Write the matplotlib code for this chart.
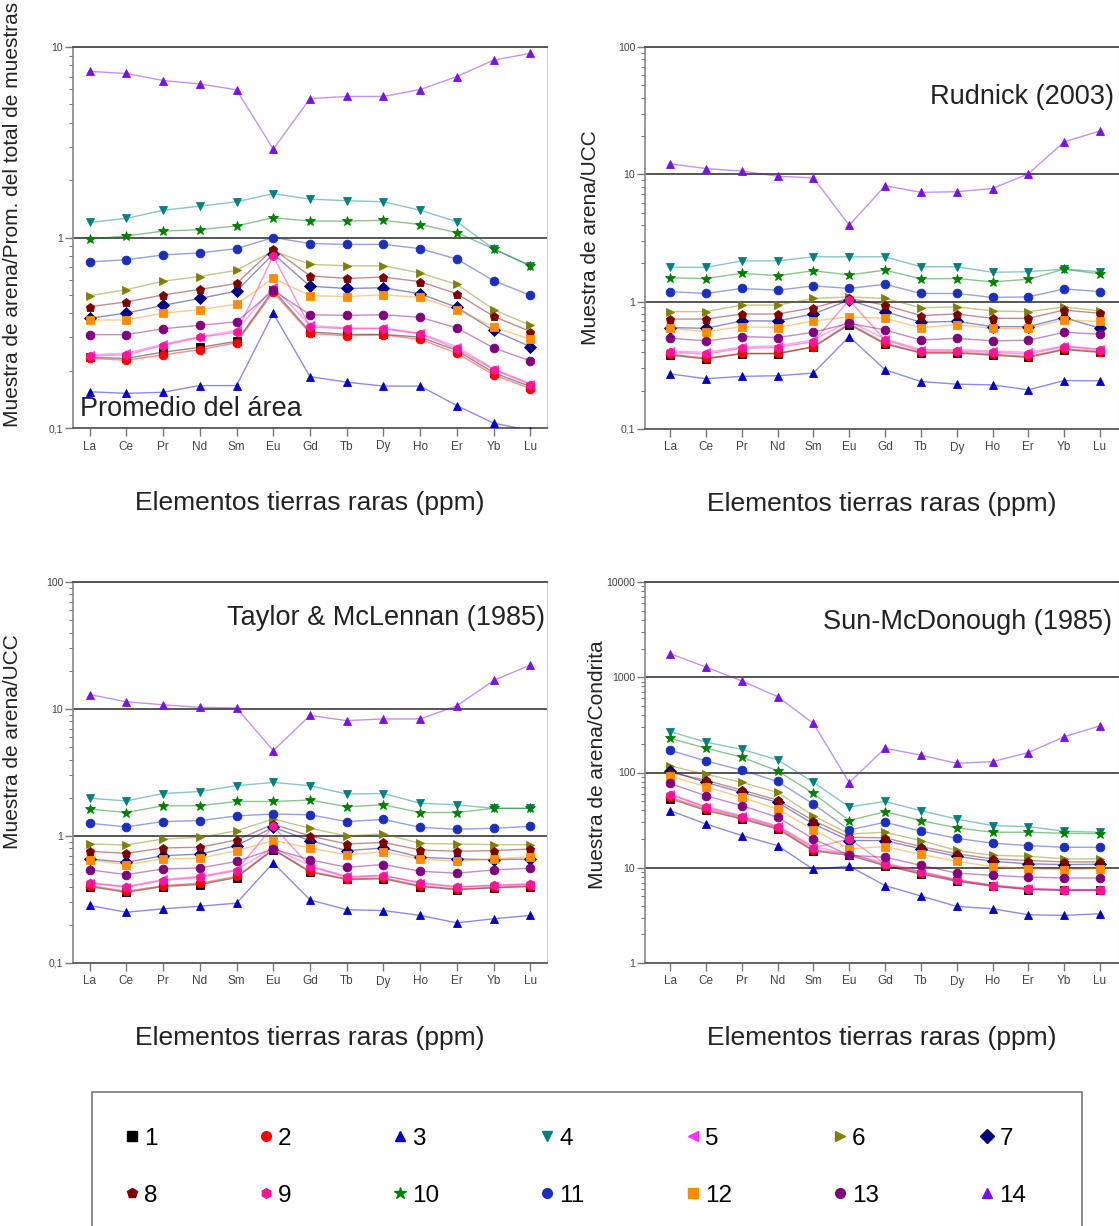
import numpy as np
import matplotlib
matplotlib.use("Agg")
import matplotlib.pyplot as plt
from matplotlib.lines import Line2D
from matplotlib.patches import Rectangle
from matplotlib.ticker import LogLocator, FuncFormatter, NullFormatter

plt.rcParams['font.family'] = ['Liberation Sans', 'DejaVu Sans']

elements = ['La', 'Ce', 'Pr', 'Nd', 'Sm', 'Eu', 'Gd', 'Tb', 'Dy', 'Ho', 'Er', 'Yb', 'Lu']
samples = [str(i) for i in range(1, 15)]
markers = ['s', 'o', '^', 'v', '<', '>', 'D', 'p', 'h', '*', 'o', 's', 'o', '^']
colors = ['#000000', '#ff0000', '#0000cc', '#008080', '#ff33ff', '#808000', '#000080',
          '#800000', '#ff1493', '#008000', '#1a2fc0', '#ff8c00', '#800080', '#7a10e8']

# muestra / promedio del area
promedio = [
    [0.235, 0.232, 0.25, 0.265, 0.285, 0.53, 0.32, 0.31, 0.31, 0.30, 0.255, 0.195, 0.165],
    [0.232, 0.227, 0.242, 0.258, 0.28, 0.516, 0.314, 0.305, 0.308, 0.292, 0.247, 0.19, 0.161],
    [0.155, 0.152, 0.154, 0.167, 0.167, 0.40, 0.186, 0.174, 0.166, 0.166, 0.131, 0.106, 0.097],
    [1.20, 1.26, 1.39, 1.46, 1.54, 1.70, 1.59, 1.56, 1.54, 1.39, 1.21, 0.87, 0.71],
    [0.242, 0.247, 0.275, 0.302, 0.325, 0.55, 0.346, 0.335, 0.335, 0.314, 0.267, 0.204, 0.171],
    [0.495, 0.532, 0.59, 0.624, 0.673, 0.85, 0.723, 0.71, 0.71, 0.651, 0.567, 0.418, 0.346],
    [0.377, 0.401, 0.44, 0.479, 0.523, 0.82, 0.555, 0.54, 0.545, 0.506, 0.43, 0.325, 0.267],
    [0.433, 0.459, 0.499, 0.534, 0.574, 0.87, 0.629, 0.61, 0.62, 0.586, 0.506, 0.385, 0.321],
    [0.239, 0.242, 0.271, 0.299, 0.318, 0.80, 0.339, 0.332, 0.332, 0.312, 0.26, 0.202, 0.169],
    [0.98, 1.02, 1.08, 1.10, 1.15, 1.27, 1.22, 1.22, 1.23, 1.17, 1.06, 0.87, 0.71],
    [0.745, 0.764, 0.81, 0.83, 0.874, 1.0, 0.93, 0.92, 0.92, 0.874, 0.77, 0.593, 0.497],
    [0.369, 0.369, 0.401, 0.418, 0.446, 0.611, 0.495, 0.49, 0.5, 0.485, 0.418, 0.339, 0.292],
    [0.309, 0.309, 0.332, 0.346, 0.361, 0.527, 0.393, 0.39, 0.393, 0.381, 0.335, 0.263, 0.225],
    [7.45, 7.26, 6.67, 6.4, 5.96, 2.91, 5.36, 5.5, 5.5, 5.98, 7.0, 8.53, 9.27],
]

# muestra / UCC Rudnick (2003)
rudnick = [
    [0.38, 0.355, 0.39, 0.39, 0.44, 0.66, 0.465, 0.395, 0.395, 0.38, 0.365, 0.42, 0.40],
    [0.387, 0.36, 0.393, 0.393, 0.444, 0.676, 0.472, 0.40, 0.40, 0.387, 0.371, 0.426, 0.406],
    [0.271, 0.248, 0.259, 0.262, 0.275, 0.532, 0.292, 0.236, 0.225, 0.222, 0.203, 0.24, 0.239],
    [1.86, 1.86, 2.09, 2.09, 2.25, 2.25, 2.25, 1.88, 1.88, 1.70, 1.72, 1.80, 1.72],
    [0.41, 0.40, 0.44, 0.45, 0.50, 0.70, 0.51, 0.42, 0.42, 0.41, 0.40, 0.45, 0.425],
    [0.835, 0.835, 0.94, 0.94, 1.06, 1.09, 1.06, 0.897, 0.91, 0.845, 0.835, 0.91, 0.845],
    [0.625, 0.618, 0.706, 0.706, 0.80, 1.03, 0.835, 0.69, 0.70, 0.637, 0.637, 0.75, 0.618],
    [0.73, 0.73, 0.80, 0.80, 0.897, 1.06, 0.94, 0.777, 0.80, 0.74, 0.74, 0.86, 0.81],
    [0.401, 0.387, 0.431, 0.436, 0.486, 1.03, 0.50, 0.41, 0.41, 0.40, 0.387, 0.444, 0.418],
    [1.54, 1.52, 1.67, 1.60, 1.75, 1.62, 1.77, 1.51, 1.52, 1.43, 1.50, 1.80, 1.65],
    [1.20, 1.16, 1.27, 1.23, 1.33, 1.27, 1.37, 1.16, 1.16, 1.08, 1.09, 1.26, 1.20],
    [0.618, 0.582, 0.637, 0.625, 0.706, 0.76, 0.74, 0.625, 0.66, 0.618, 0.618, 0.72, 0.70],
    [0.516, 0.492, 0.532, 0.523, 0.575, 0.676, 0.60, 0.50, 0.516, 0.492, 0.498, 0.575, 0.555],
    [12.1, 11.1, 10.6, 9.66, 9.37, 3.98, 8.13, 7.22, 7.3, 7.74, 10.1, 18.0, 21.9],
]

# muestra / UCC Taylor & McLennan (1985)
taylor = [
    [0.40, 0.36, 0.40, 0.415, 0.47, 0.78, 0.52, 0.455, 0.46, 0.40, 0.378, 0.39, 0.40],
    [0.407, 0.367, 0.407, 0.425, 0.48, 0.79, 0.528, 0.46, 0.468, 0.407, 0.383, 0.395, 0.407],
    [0.284, 0.251, 0.267, 0.28, 0.296, 0.614, 0.314, 0.263, 0.259, 0.237, 0.207, 0.223, 0.237],
    [1.98, 1.89, 2.16, 2.24, 2.49, 2.64, 2.49, 2.14, 2.16, 1.81, 1.76, 1.65, 1.65],
    [0.43, 0.40, 0.455, 0.48, 0.545, 0.805, 0.585, 0.48, 0.49, 0.43, 0.40, 0.405, 0.415],
    [0.865, 0.85, 0.947, 0.976, 1.10, 1.36, 1.15, 1.0, 1.04, 0.875, 0.865, 0.855, 0.855],
    [0.66, 0.62, 0.70, 0.72, 0.84, 1.17, 0.92, 0.767, 0.805, 0.68, 0.66, 0.65, 0.66],
    [0.758, 0.73, 0.805, 0.815, 0.93, 1.24, 1.0, 0.865, 0.89, 0.776, 0.758, 0.767, 0.79],
    [0.425, 0.395, 0.446, 0.473, 0.534, 1.20, 0.575, 0.473, 0.488, 0.425, 0.395, 0.41, 0.42],
    [1.63, 1.53, 1.73, 1.73, 1.87, 1.87, 1.92, 1.70, 1.76, 1.53, 1.53, 1.65, 1.65],
    [1.26, 1.18, 1.30, 1.32, 1.44, 1.49, 1.47, 1.30, 1.35, 1.17, 1.13, 1.15, 1.19],
    [0.648, 0.596, 0.66, 0.668, 0.767, 0.92, 0.805, 0.71, 0.753, 0.66, 0.632, 0.66, 0.688],
    [0.541, 0.497, 0.55, 0.56, 0.63, 0.79, 0.65, 0.567, 0.596, 0.528, 0.509, 0.541, 0.557],
    [13.0, 11.4, 10.8, 10.3, 10.2, 4.7, 8.9, 8.1, 8.35, 8.35, 10.6, 16.8, 22.2],
]

# muestra / condrita Sun-McDonough
condrita = [
    [53, 40, 32.5, 25.5, 15, 13.5, 10.5, 8.6, 7.2, 6.4, 5.9, 5.8, 5.8],
    [54.8, 41.4, 33.4, 26.2, 15.4, 14, 10.8, 8.79, 7.4, 6.5, 6.0, 5.9, 5.9],
    [39.8, 28.8, 21.8, 17.1, 9.6, 10.4, 6.5, 5.05, 3.93, 3.71, 3.21, 3.16, 3.29],
    [269, 208, 175, 136, 79, 43.5, 49.7, 39.7, 32.5, 27.7, 27, 24.2, 23.6],
    [59.5, 43.8, 35.2, 27.6, 16.7, 13.9, 11.3, 9.2, 7.5, 6.6, 6.1, 5.85, 5.9],
    [117, 96, 78.6, 61.8, 35.2, 22.6, 23.6, 19.3, 15.2, 13.5, 13.2, 12.4, 12.4],
    [104, 78.6, 61.8, 48.6, 28.8, 19.3, 19.3, 15.8, 13.2, 11.7, 11, 10.8, 10.9],
    [100, 83, 65.3, 51.4, 31.3, 20.9, 20.6, 16.7, 14, 12.4, 11.9, 11.5, 11.5],
    [58.5, 43, 34.4, 27, 16.2, 20.1, 11, 9.0, 7.4, 6.5, 6.0, 5.8, 5.8],
    [228, 180, 145, 104, 60.3, 31.3, 38.8, 31.3, 26.2, 23.6, 23.6, 23, 22.8],
    [171, 132, 106, 80.5, 46.7, 25, 30, 24.2, 20.4, 18.1, 17.1, 16.4, 16.4],
    [92, 70.8, 54.8, 41.4, 25, 15.8, 16.7, 13.8, 11.7, 10.3, 9.77, 9.5, 9.77],
    [76.7, 57, 44.9, 33.9, 20.1, 13.5, 12.9, 10.6, 8.79, 8.32, 7.99, 7.8, 7.8],
    [1770, 1280, 915, 627, 327, 78.5, 180, 152, 125, 130, 162, 237, 309],
]

W, H = 1119, 1226
fig = plt.figure(figsize=(W / 100, H / 100), dpi=100)


def px_axes(left, top, right, bottom):
    return fig.add_axes([left / W, 1 - bottom / H, (right - left) / W, (bottom - top) / H])


def fmt(v, pos):
    if v < 1:
        return '0,1'
    return '%d' % v


panels = [
    # data, box (l, t, r, b), ylim, xlim, ylabel, label pos
    (promedio, (73, 47, 547, 428), (0.1, 10), (-0.45, 12.45),
     'Muestra de arena/Prom. del total de muestras', (-0.108, 0.56)),
    (rudnick, (645, 47, 1119, 429), (0.1, 100), (-0.7, 12.53),
     'Muestra de arena/UCC', (-0.095, 0.5)),
    (taylor, (73, 582, 547, 963), (0.1, 100), (-0.45, 12.45),
     'Muestra de arena/UCC', (-0.108, 0.58)),
    (condrita, (645, 582, 1119, 963), (1, 10000), (-0.7, 12.53),
     'Muestra de arena/Condrita', (-0.08, 0.52)),
]

x = np.arange(len(elements))
axes = []
for data, box, ylim, xlim, ylab, lpos in panels:
    ax = px_axes(*box)
    for i, vals in enumerate(data):
        ax.plot(x, vals, '-', color=colors[i], alpha=0.45, lw=1.0, zorder=3)
        ax.plot(x, vals, linestyle='none', marker=markers[i], color=colors[i],
                ms=7.5 if markers[i] == '*' else 6.3, mec=colors[i], mew=0.6, zorder=4)
    ax.set_yscale('log')
    ax.set_ylim(*ylim)
    ax.set_xlim(*xlim)
    ax.set_xticks(x)
    ax.set_xticklabels(elements, fontsize=8.5, color='#444444')
    ax.yaxis.set_major_locator(LogLocator(base=10))
    ax.yaxis.set_minor_locator(LogLocator(base=10, subs=np.arange(2, 10)))
    ax.yaxis.set_major_formatter(FuncFormatter(fmt))
    ax.yaxis.set_minor_formatter(NullFormatter())
    ax.tick_params(axis='y', which='major', labelsize=7.5, labelcolor='#444444',
                   length=6, width=1, color='#777777', direction='out', pad=1)
    ax.tick_params(axis='y', which='minor', length=3, width=0.8, color='#777777', direction='out')
    ax.tick_params(axis='x', length=6, width=1, color='#777777', direction='out', pad=3)
    ax.yaxis.grid(True, which='major', color='#555555', lw=1.4, zorder=1)
    ax.set_axisbelow(True)
    ax.spines['top'].set_color('#555555')
    ax.spines['top'].set_linewidth(1.4)
    ax.spines['bottom'].set_color('#666666')
    ax.spines['bottom'].set_linewidth(1.4)
    ax.spines['left'].set_color('#888888')
    ax.spines['left'].set_linewidth(1.2)
    ax.spines['right'].set_color('#cccccc')
    ax.spines['right'].set_linewidth(0.8)
    ax.set_ylabel(ylab, fontsize=15, color='#222222')
    ax.yaxis.set_label_coords(*lpos)
    ax.set_xlabel('Elementos tierras raras (ppm)', fontsize=19, color='#222222', labelpad=28)
    axes.append(ax)

axes[0].text(0.015, 0.05, 'Promedio del área', transform=axes[0].transAxes,
             fontsize=19.5, color='#222222', ha='left', va='center')
axes[1].text(0.99, 0.87, 'Rudnick (2003)', transform=axes[1].transAxes,
             fontsize=19.5, color='#222222', ha='right', va='center')
axes[2].text(0.995, 0.905, 'Taylor & McLennan (1985)', transform=axes[2].transAxes,
             fontsize=19.5, color='#222222', ha='right', va='center')
axes[3].text(0.985, 0.895, 'Sun-McDonough (1985)', transform=axes[3].transAxes,
             fontsize=19.5, color='#222222', ha='right', va='center')

# legend box, open at the bottom edge like the reference
fig.patches.append(Rectangle((92 / W, -0.02), 990 / W, 0.02 + 1 - 1092 / H,
                             transform=fig.transFigure, fill=False,
                             edgecolor='#777777', lw=1.2))
handles = [Line2D([], [], linestyle='none', marker=markers[i], color=colors[i],
                  ms=9 if markers[i] == '*' else 7) for i in range(14)]
# legend fills column by column, so interleave to read 1..7 on the first row
order = [k for c in range(7) for k in (c, c + 7)]
fig.legend([handles[k] for k in order], [samples[k] for k in order], ncol=7,
           loc='upper left', bbox_to_anchor=(115 / W, 1 - 1118 / H), frameon=False,
           fontsize=17.5, handlelength=0.6, handletextpad=0.2,
           columnspacing=4.15, labelspacing=1.45, borderaxespad=0)

fig.savefig('out.png', dpi=100)
